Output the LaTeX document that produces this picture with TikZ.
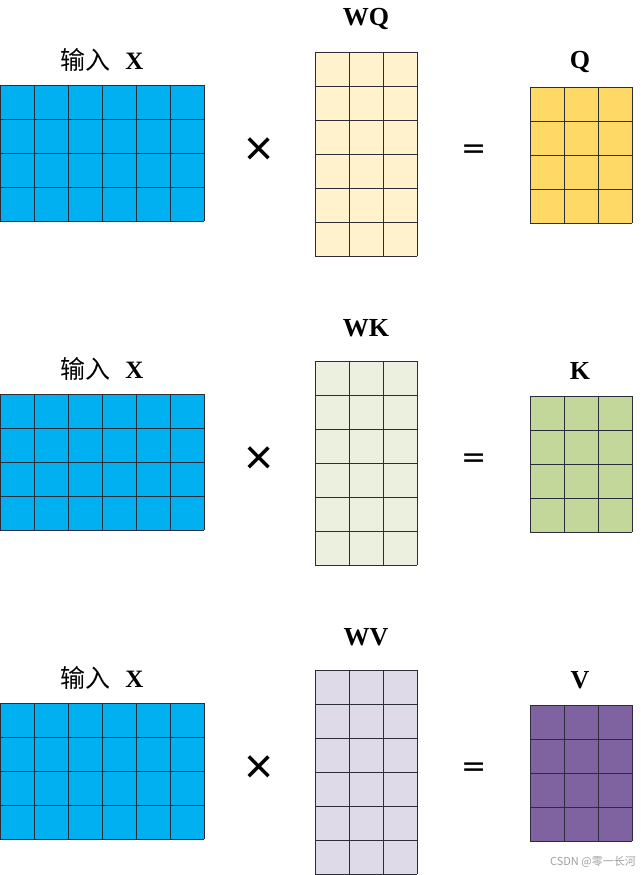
\documentclass[tikz,border=0pt]{standalone}
\usepackage{fontspec}
\setmainfont{Liberation Serif}
\newfontfamily\cjk{Noto Sans CJK SC}
\newfontfamily\dvs{DejaVu Sans}
\newfontfamily\lsans{Liberation Sans}
\definecolor{xblue}{HTML}{00B0F0}
\definecolor{wq}{HTML}{FFF2CC}
\definecolor{qc}{HTML}{FFD966}
\definecolor{wk}{HTML}{EBF1DE}
\definecolor{kc}{HTML}{C4D79B}
\definecolor{wv}{HTML}{DFDAE8}
\definecolor{vc}{HTML}{7F63A1}
\definecolor{gl}{HTML}{2B2D3A}
\newcommand\drawmat[5]{%
  \fill[#5] (#1,#2) rectangle ++(#3*34,#4*34);
  \foreach \i in {0,...,#3} \draw[gridline] (#1+\i*34,#2) -- ++(0,#4*34);
  \foreach \j in {0,...,#4} \draw[gridline] (#1,#2+\j*34) -- ++(#3*34,0);
}
\begin{document}
\begin{tikzpicture}[x=1pt,y=-1pt,
  gridline/.style={draw=gl,line width=0.8pt},
  lab/.style={font=\fontsize{26}{28}\selectfont\bfseries,inner sep=0pt},
  inlab/.style={font=\fontsize{25}{27}\selectfont,inner sep=0pt},
  op/.style={font=\lsans\fontsize{50}{52}\selectfont,inner sep=0pt},
  eqop/.style={font=\dvs\fontsize{30}{32}\selectfont,inner sep=0pt},
  wm/.style={font=\cjk\fontsize{11}{13}\selectfont,text=gray!75,inner sep=0pt}]
\useasboundingbox (0,0) rectangle (640,875);
\foreach \yo/\wc/\rc/\wn/\rn in {0/wq/qc/WQ/Q, 309/wk/kc/WK/K, 618/wv/vc/WV/V}{
  \drawmat{0}{85+\yo}{6}{4}{xblue}
  \drawmat{315}{52+\yo}{3}{6}{\wc}
  \drawmat{530}{87+\yo}{3}{4}{\rc}
  \node[inlab] (inx\wn) at (102,60+\yo) {{\cjk 输入}\hspace{0.6em}\textbf{X}};
  \node[lab] (l\wn) at (366,19+\yo) {\wn};
  \node[lab] (l\rn) at (580,62+\yo) {\rn};
  \node[op] (mul\wn) at (259,152+\yo) {×};
  \node[eqop] (eq\wn) at (474,152+\yo) {=};
}
\node[wm,anchor=east] (wmk) at (636,862) {CSDN @零一长河};
\end{tikzpicture}
\end{document}
